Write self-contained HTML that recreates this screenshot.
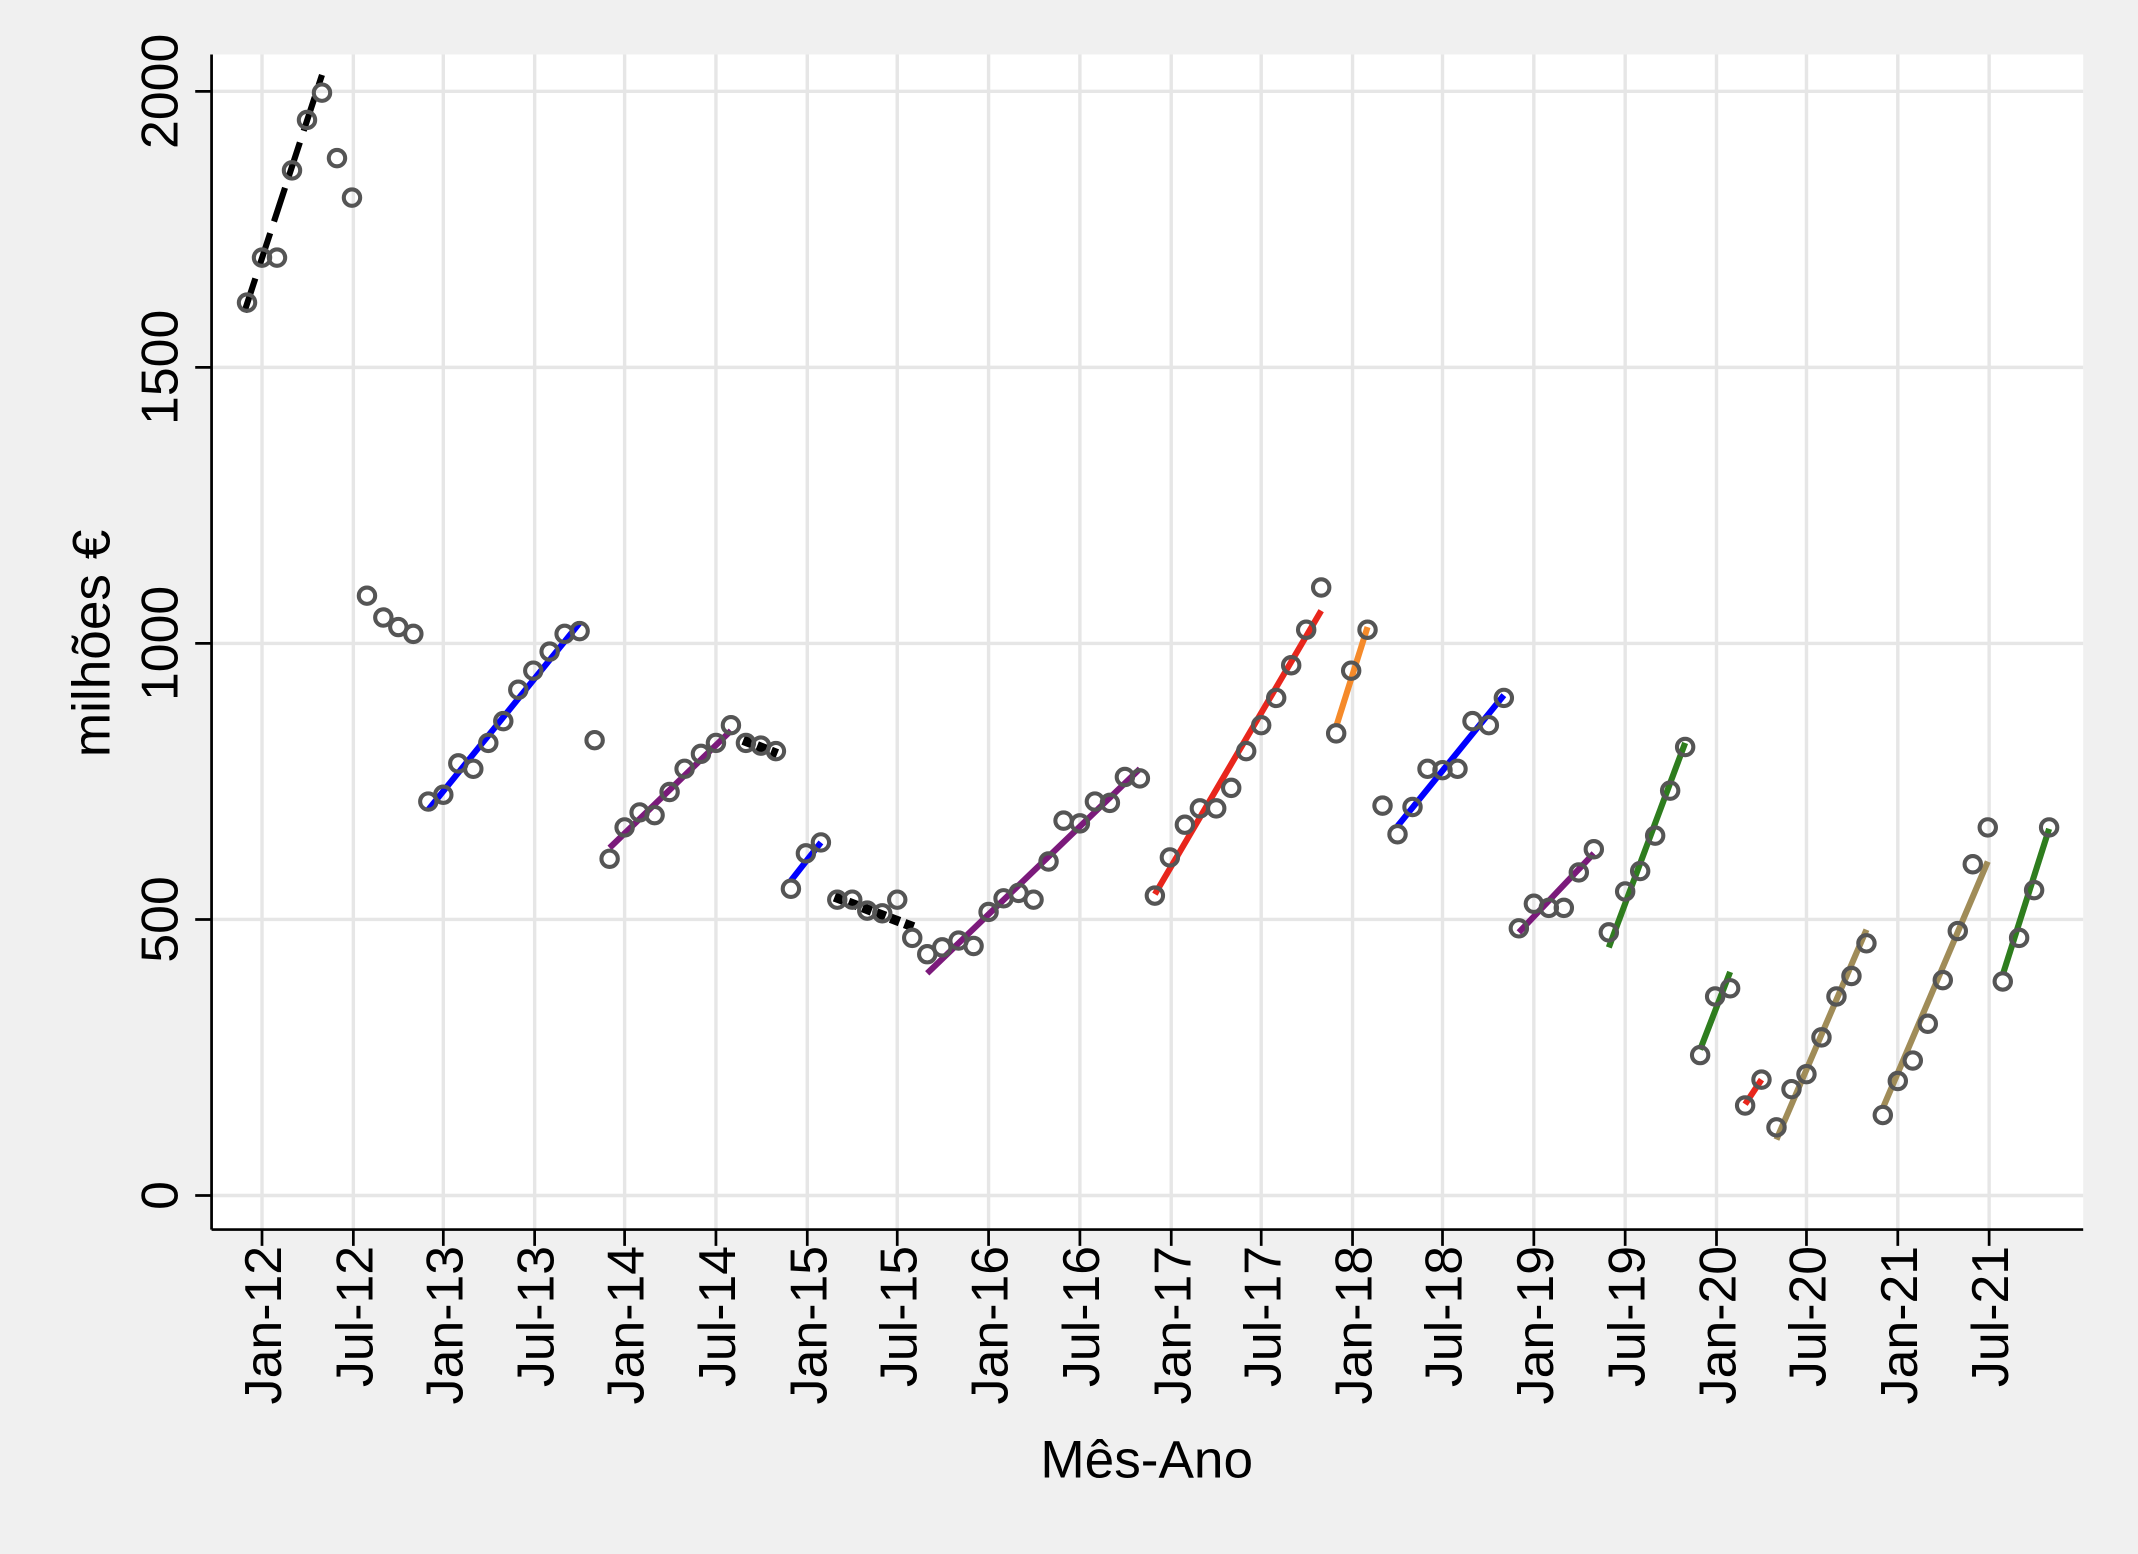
<!DOCTYPE html>
<html><head><meta charset="utf-8"><style>html,body{margin:0;padding:0;background:#f0f0f0}svg{display:block}</style></head>
<body>
<svg width="2138" height="1554" viewBox="0 0 1568 1140" xmlns="http://www.w3.org/2000/svg" font-family="Liberation Sans, Arial, sans-serif">
<rect x="0" y="0" width="1568" height="1140" fill="#f0f0f0"/>
<rect x="155" y="40" width="1373" height="862" fill="#fff"/>
<g stroke="#e6e6e6" stroke-width="2.5">
<line x1="155" y1="877" x2="1528" y2="877"/><line x1="155" y1="674.5" x2="1528" y2="674.5"/><line x1="155" y1="472" x2="1528" y2="472"/><line x1="155" y1="269.5" x2="1528" y2="269.5"/><line x1="155" y1="67" x2="1528" y2="67"/>
<line x1="192" y1="40" x2="192" y2="902"/><line x1="259" y1="40" x2="259" y2="902"/><line x1="325" y1="40" x2="325" y2="902"/><line x1="392" y1="40" x2="392" y2="902"/><line x1="458" y1="40" x2="458" y2="902"/><line x1="525" y1="40" x2="525" y2="902"/><line x1="592" y1="40" x2="592" y2="902"/><line x1="658" y1="40" x2="658" y2="902"/><line x1="725" y1="40" x2="725" y2="902"/><line x1="792" y1="40" x2="792" y2="902"/><line x1="859" y1="40" x2="859" y2="902"/><line x1="925" y1="40" x2="925" y2="902"/><line x1="992" y1="40" x2="992" y2="902"/><line x1="1058" y1="40" x2="1058" y2="902"/><line x1="1125" y1="40" x2="1125" y2="902"/><line x1="1192" y1="40" x2="1192" y2="902"/><line x1="1259" y1="40" x2="1259" y2="902"/><line x1="1325" y1="40" x2="1325" y2="902"/><line x1="1392" y1="40" x2="1392" y2="902"/><line x1="1459" y1="40" x2="1459" y2="902"/>
</g>
<g stroke="#000" stroke-width="2" fill="none">
<line x1="155" y1="40" x2="155" y2="902"/><line x1="155" y1="902" x2="1528" y2="902"/>
<path d="M143 877H155M143 674.5H155M143 472H155M143 269.5H155M143 67H155"/>
<path d="M192 902V914M259 902V914M325 902V914M392 902V914M458 902V914M525 902V914M592 902V914M658 902V914M725 902V914M792 902V914M859 902V914M925 902V914M992 902V914M1058 902V914M1125 902V914M1192 902V914M1259 902V914M1325 902V914M1392 902V914M1459 902V914"/>
</g>
<g font-size="38" fill="#000" text-anchor="middle">
<text transform="translate(130,877) rotate(-90)">0</text>
<text transform="translate(130,674.5) rotate(-90)">500</text>
<text transform="translate(130,472) rotate(-90)">1000</text>
<text transform="translate(130,269.5) rotate(-90)">1500</text>
<text transform="translate(130,67) rotate(-90)">2000</text>
<text transform="translate(80,472) rotate(-90)" font-size="39">milhões €</text>
<text x="841" y="1084" font-size="39">Mês-Ano</text>
</g>
<g font-size="38" fill="#000" text-anchor="end">
<text transform="translate(206,914) rotate(-90)">Jan-12</text>
<text transform="translate(273,914) rotate(-90)">Jul-12</text>
<text transform="translate(339,914) rotate(-90)">Jan-13</text>
<text transform="translate(406,914) rotate(-90)">Jul-13</text>
<text transform="translate(472,914) rotate(-90)">Jan-14</text>
<text transform="translate(539,914) rotate(-90)">Jul-14</text>
<text transform="translate(606,914) rotate(-90)">Jan-15</text>
<text transform="translate(672,914) rotate(-90)">Jul-15</text>
<text transform="translate(739,914) rotate(-90)">Jan-16</text>
<text transform="translate(806,914) rotate(-90)">Jul-16</text>
<text transform="translate(873,914) rotate(-90)">Jan-17</text>
<text transform="translate(939,914) rotate(-90)">Jul-17</text>
<text transform="translate(1006,914) rotate(-90)">Jan-18</text>
<text transform="translate(1072,914) rotate(-90)">Jul-18</text>
<text transform="translate(1139,914) rotate(-90)">Jan-19</text>
<text transform="translate(1206,914) rotate(-90)">Jul-19</text>
<text transform="translate(1273,914) rotate(-90)">Jan-20</text>
<text transform="translate(1339,914) rotate(-90)">Jul-20</text>
<text transform="translate(1406,914) rotate(-90)">Jan-21</text>
<text transform="translate(1473,914) rotate(-90)">Jul-21</text>
</g>
<g stroke-width="4.5" fill="none" stroke-linecap="butt">
<line x1="179" y1="229" x2="236" y2="55" stroke="#000" stroke-dasharray="26,9"/>
<line x1="314" y1="594" x2="425" y2="457" stroke="#0000ff"/>
<line x1="447" y1="622" x2="536" y2="536" stroke="#7b1a7b"/>
<line x1="545" y1="543" x2="570" y2="553" stroke="#000" stroke-width="7" stroke-dasharray="7,4"/>
<line x1="580" y1="646" x2="602" y2="618" stroke="#0000ff"/>
<line x1="612" y1="658" x2="670" y2="680" stroke="#000" stroke-width="7" stroke-dasharray="7,4"/>
<line x1="680" y1="714" x2="836" y2="564" stroke="#7b1a7b"/>
<line x1="847" y1="656" x2="969" y2="448" stroke="#e8261c"/>
<line x1="980" y1="533" x2="1003" y2="460" stroke="#f58a2a"/>
<line x1="1025" y1="606" x2="1103" y2="510" stroke="#0000ff"/>
<line x1="1114" y1="684" x2="1169" y2="626" stroke="#7b1a7b"/>
<line x1="1180" y1="695" x2="1236" y2="545" stroke="#2e7d1e"/>
<line x1="1247" y1="770" x2="1269" y2="713" stroke="#2e7d1e"/>
<line x1="1280" y1="810" x2="1292" y2="792" stroke="#e8261c"/>
<line x1="1303" y1="836" x2="1369" y2="682" stroke="#a08c58"/>
<line x1="1381" y1="813" x2="1458" y2="632" stroke="#a08c58"/>
<line x1="1469" y1="715" x2="1503" y2="608" stroke="#2e7d1e"/>
</g>
<g fill="none" stroke="#555" stroke-width="3">
<circle cx="181" cy="222" r="6"/><circle cx="192" cy="189" r="6"/><circle cx="203" cy="189" r="6"/><circle cx="214" cy="125" r="6"/><circle cx="225" cy="88" r="6"/><circle cx="236" cy="68" r="6"/><circle cx="247" cy="116" r="6"/><circle cx="258" cy="145" r="6"/><circle cx="269" cy="437" r="6"/><circle cx="281" cy="453" r="6"/><circle cx="292" cy="460" r="6"/><circle cx="303" cy="465" r="6"/>
<circle cx="314" cy="588" r="6"/><circle cx="325" cy="583" r="6"/><circle cx="336" cy="560" r="6"/><circle cx="347" cy="564" r="6"/><circle cx="358" cy="545" r="6"/><circle cx="369" cy="529" r="6"/><circle cx="380" cy="506" r="6"/><circle cx="391" cy="492" r="6"/><circle cx="403" cy="478" r="6"/><circle cx="414" cy="465" r="6"/><circle cx="425" cy="463" r="6"/><circle cx="436" cy="543" r="6"/>
<circle cx="447" cy="630" r="6"/><circle cx="458" cy="607" r="6"/><circle cx="469" cy="596" r="6"/><circle cx="480" cy="598" r="6"/><circle cx="491" cy="581" r="6"/><circle cx="502" cy="564" r="6"/><circle cx="514" cy="553" r="6"/><circle cx="525" cy="545" r="6"/><circle cx="536" cy="532" r="6"/><circle cx="547" cy="545" r="6"/><circle cx="558" cy="547" r="6"/><circle cx="569" cy="551" r="6"/>
<circle cx="580" cy="652" r="6"/><circle cx="591" cy="626" r="6"/><circle cx="602" cy="618" r="6"/><circle cx="614" cy="660" r="6"/><circle cx="625" cy="660" r="6"/><circle cx="636" cy="668" r="6"/><circle cx="647" cy="670" r="6"/><circle cx="658" cy="660" r="6"/><circle cx="669" cy="688" r="6"/><circle cx="680" cy="700" r="6"/><circle cx="691" cy="695" r="6"/><circle cx="703" cy="690" r="6"/>
<circle cx="714" cy="694" r="6"/><circle cx="725" cy="669" r="6"/><circle cx="736" cy="659" r="6"/><circle cx="747" cy="655" r="6"/><circle cx="758" cy="660" r="6"/><circle cx="769" cy="632" r="6"/><circle cx="780" cy="602" r="6"/><circle cx="792" cy="604" r="6"/><circle cx="803" cy="588" r="6"/><circle cx="814" cy="589" r="6"/><circle cx="825" cy="570" r="6"/><circle cx="836" cy="571" r="6"/>
<circle cx="847" cy="657" r="6"/><circle cx="858" cy="629" r="6"/><circle cx="869" cy="605" r="6"/><circle cx="880" cy="593" r="6"/><circle cx="892" cy="593" r="6"/><circle cx="903" cy="578" r="6"/><circle cx="914" cy="551" r="6"/><circle cx="925" cy="532" r="6"/><circle cx="936" cy="512" r="6"/><circle cx="947" cy="488" r="6"/><circle cx="958" cy="462" r="6"/><circle cx="969" cy="431" r="6"/>
<circle cx="980" cy="538" r="6"/><circle cx="991" cy="492" r="6"/><circle cx="1003" cy="462" r="6"/><circle cx="1014" cy="591" r="6"/><circle cx="1025" cy="612" r="6"/><circle cx="1036" cy="592" r="6"/><circle cx="1047" cy="564" r="6"/><circle cx="1058" cy="565" r="6"/><circle cx="1069" cy="564" r="6"/><circle cx="1080" cy="529" r="6"/><circle cx="1092" cy="532" r="6"/><circle cx="1103" cy="512" r="6"/>
<circle cx="1114" cy="681" r="6"/><circle cx="1125" cy="663" r="6"/><circle cx="1136" cy="666" r="6"/><circle cx="1147" cy="666" r="6"/><circle cx="1158" cy="640" r="6"/><circle cx="1169" cy="623" r="6"/><circle cx="1180" cy="684" r="6"/><circle cx="1192" cy="654" r="6"/><circle cx="1203" cy="639" r="6"/><circle cx="1214" cy="613" r="6"/><circle cx="1225" cy="580" r="6"/><circle cx="1236" cy="548" r="6"/>
<circle cx="1247" cy="774" r="6"/><circle cx="1258" cy="731" r="6"/><circle cx="1269" cy="725" r="6"/><circle cx="1280" cy="811" r="6"/><circle cx="1292" cy="792" r="6"/><circle cx="1303" cy="827" r="6"/><circle cx="1314" cy="799" r="6"/><circle cx="1325" cy="788" r="6"/><circle cx="1336" cy="761" r="6"/><circle cx="1347" cy="731" r="6"/><circle cx="1358" cy="716" r="6"/><circle cx="1369" cy="692" r="6"/>
<circle cx="1381" cy="818" r="6"/><circle cx="1392" cy="793" r="6"/><circle cx="1403" cy="778" r="6"/><circle cx="1414" cy="751" r="6"/><circle cx="1425" cy="719" r="6"/><circle cx="1436" cy="683" r="6"/><circle cx="1447" cy="634" r="6"/><circle cx="1458" cy="607" r="6"/><circle cx="1469" cy="720" r="6"/><circle cx="1481" cy="688" r="6"/><circle cx="1492" cy="653" r="6"/><circle cx="1503" cy="607" r="6"/>
</g>
</svg>
</body></html>
